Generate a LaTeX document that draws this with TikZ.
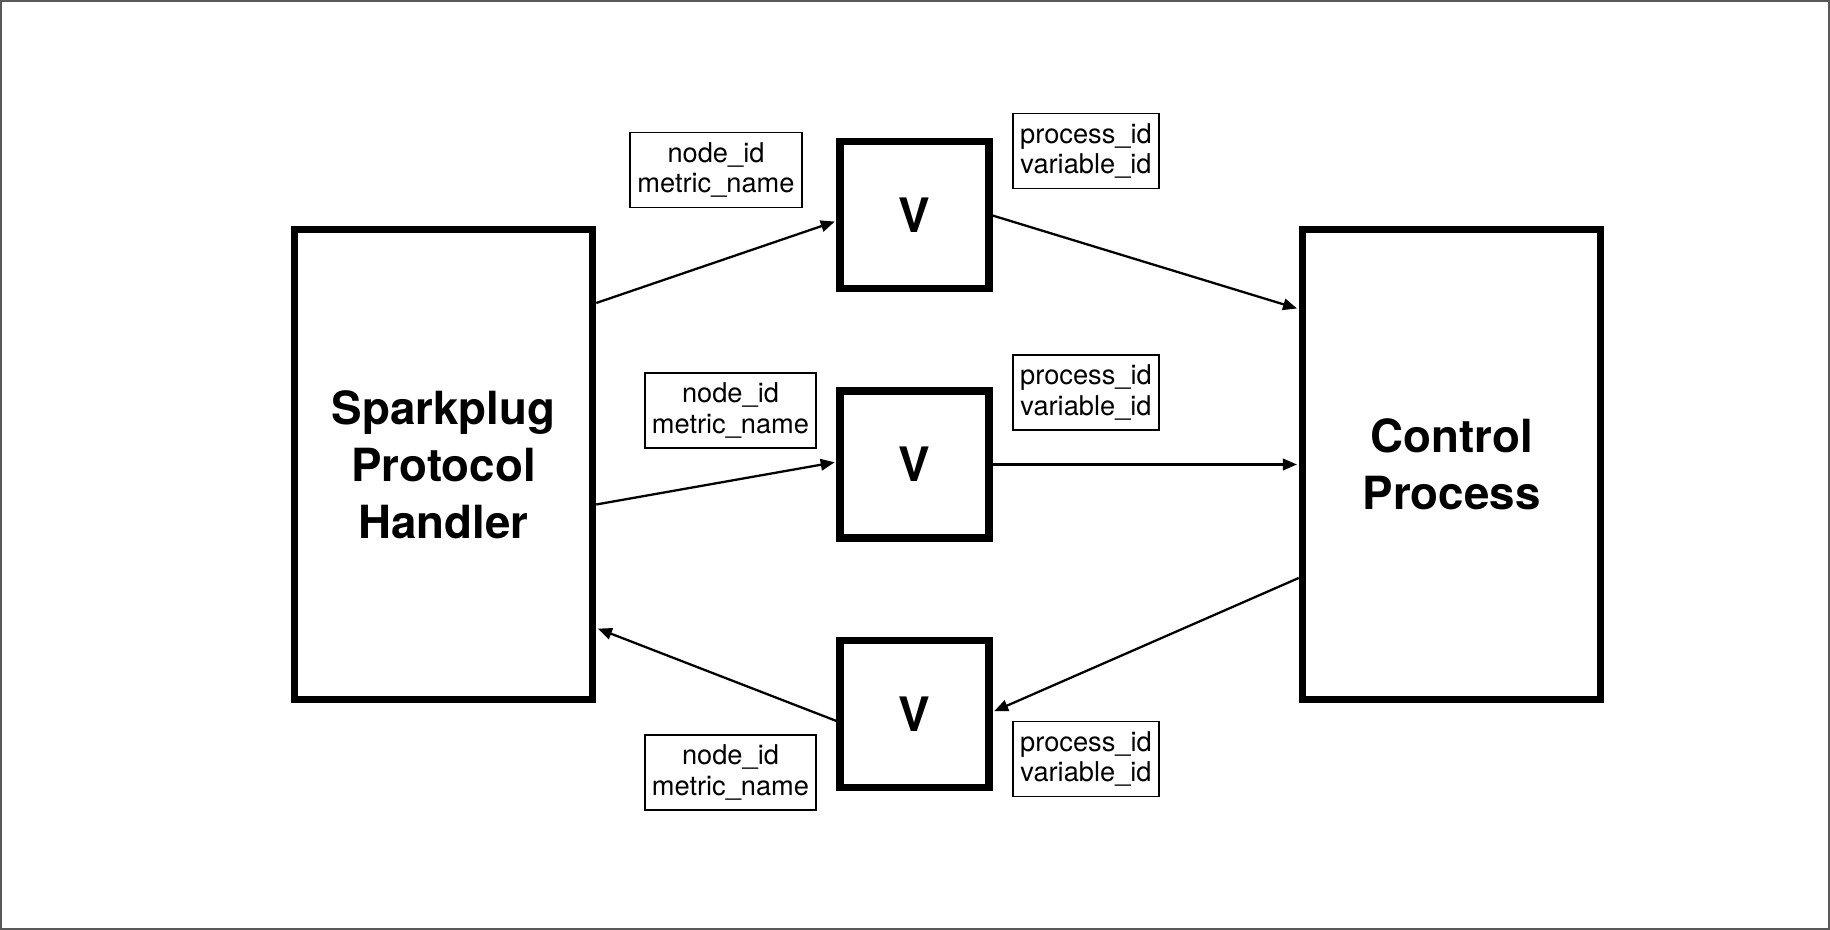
\documentclass[tikz,border=0pt]{standalone}
\usepackage{fontspec}
\setmainfont{TeX Gyre Heros}
\usetikzlibrary{arrows.meta}

\tikzset{
  bigbox/.style={draw, line width=4pt, minimum width=5.97cm, minimum height=9.41cm,
    align=center, font=\fontsize{26}{32.4}\selectfont\bfseries},
  vbox/.style={draw, line width=4pt, minimum width=2.98cm, minimum height=2.94cm,
    font=\fontsize{27}{32}\selectfont\bfseries},
  tagbox/.style={draw, line width=0.7pt, align=center, inner sep=0pt,
    minimum width=#1, minimum height=1.5cm, font=\fontsize{15.5}{17.5}\selectfont},
  flow/.style={-{Triangle[length=8pt,width=6.5pt]}, line width=1.3pt, shorten >=1pt}
}

\begin{document}
\begin{tikzpicture}
\useasboundingbox (0,0) rectangle (36.6,18.6);
\draw[black!65, line width=1.1pt] (0.02,0.02) rectangle (36.58,18.58);

\node[bigbox] (sph) at (8.87,9.31) {Sparkplug\\Protocol\\Handler};
\node[bigbox] (cp) at (29.03,9.31) {Control\\Process};

\node[vbox] (vt) at (18.29,14.29) {V};
\node[vbox] (vm) at (18.29,9.31) {V};
\node[vbox] (vb) at (18.29,4.32) {V};

\node[tagbox=3.44cm] (lt) at (14.32,15.2) {node\_id\\metric\_name};
\node[tagbox=2.92cm] (rt) at (21.72,15.58) {process\_id\\variable\_id};
\node[tagbox=3.42cm] (lm) at (14.61,10.39) {node\_id\\metric\_name};
\node[tagbox=2.92cm] (rm) at (21.72,10.75) {process\_id\\variable\_id};
\node[tagbox=3.42cm] (lb) at (14.61,3.15) {node\_id\\metric\_name};
\node[tagbox=2.92cm] (rb) at (21.72,3.42) {process\_id\\variable\_id};

\draw[flow] ([yshift=3.23cm]sph.east) -- ([yshift=-0.11cm]vt.west);
\draw[flow] (vt.east) -- ([yshift=3.11cm]cp.west);
\draw[flow] ([yshift=-0.8cm]sph.east) -- ([yshift=0.05cm]vm.west);
\draw[flow] (vm.east) -- (cp.west);
\draw[flow] ([yshift=-2.27cm]cp.west) -- ([yshift=0.04cm]vb.east);
\draw[flow] ([yshift=-0.14cm]vb.west) -- ([yshift=-3.27cm]sph.east);
\end{tikzpicture}
\end{document}
